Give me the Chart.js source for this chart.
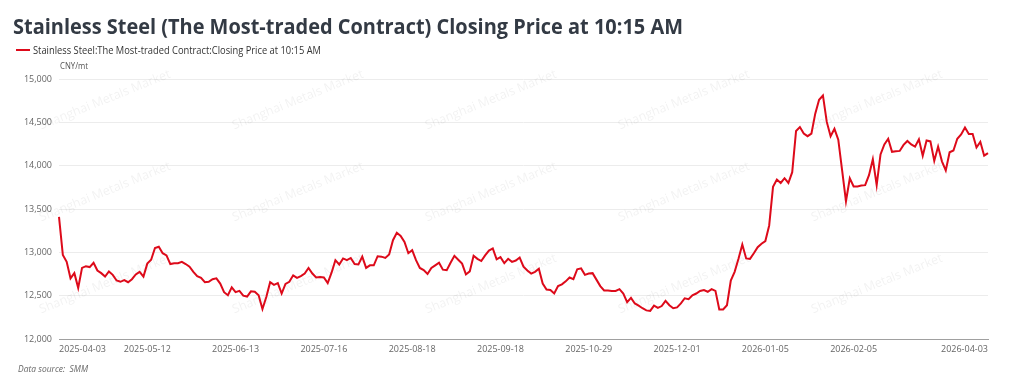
<!DOCTYPE html>
<html>
<head>
<meta charset="utf-8">
<script src="https://cdn.jsdelivr.net/npm/chart.js@4.4.1/dist/chart.umd.min.js"></script>
<style>
	html, body { margin: 0; padding: 0; background: #fff; }
	#wrap { position: relative; width: 1024px; height: 384px; overflow: hidden; }
	#chart { position: absolute; left: 0; top: 0; }
	.txt { position: absolute; white-space: nowrap; transform-origin: left center; font-family: "Open Sans", "Noto Sans", sans-serif; }
	#title { left: 13px; top: 11px; font-size: 22px; font-weight: 700; color: #333a44; line-height: 28px; }
	#legend-line { position: absolute; left: 16px; top: 49px; width: 14px; height: 2px; background: #dd0a1a; }
	#legend { left: 33px; top: 43px; font-size: 10.5px; color: #333; line-height: 14px; }
	#unit { left: 60px; top: 60px; font-size: 9px; color: #555; line-height: 12px; }
	#source { left: 18px; top: 363px; font-size: 9px; font-style: italic; color: #666; line-height: 12px; }
</style>
</head>
<body>
<div id="wrap">
	<canvas id="chart" width="1024" height="384"></canvas>
	<div class="txt" id="title">Stainless Steel (The Most-traded Contract) Closing Price at 10:15 AM</div>
	<div id="legend-line"></div>
	<div class="txt" id="legend">Stainless Steel:The Most-traded Contract:Closing Price at 10:15 AM</div>
	<div class="txt" id="unit">CNY/mt</div>
	<div class="txt" id="source">Data source:&nbsp; SMM</div>
</div>
<script>
const seriesName = "Stainless Steel:The Most-traded Contract:Closing Price at 10:15 AM";

// trading calendar (SHFE): weekdays minus exchange holidays
const firstDay = "2025-04-03";
const lastDay = "2026-04-03";
const holidays = [
	"2025-04-04", "2025-05-01", "2025-05-02", "2025-05-05", "2025-06-02",
	"2025-10-01", "2025-10-02", "2025-10-03", "2025-10-06", "2025-10-07", "2025-10-08",
	"2026-01-01", "2026-01-02",
	"2026-02-16", "2026-02-17", "2026-02-18", "2026-02-19", "2026-02-20", "2026-02-23",
];

const tickLabels = [
	"2025-04-03", "2025-05-12", "2025-06-13", "2025-07-16", "2025-08-18", "2025-09-18",
	"2025-10-29", "2025-12-01", "2026-01-05", "2026-02-05", "2026-04-03",
];

const yTicks = [12000, 12500, 13000, 13500, 14000, 14500, 15000];

// closing price, CNY/mt, one value per trading day
const closingPrice = [
	13410, 12970, 12890, 12700, 12760, 12590, 12820, 12840, 12830, 12880,
	12790, 12760, 12720, 12780, 12740, 12675, 12660, 12680, 12655, 12690,
	12745, 12775, 12720, 12870, 12915, 13050, 13065, 12990, 12965, 12865,
	12875, 12875, 12890, 12865, 12835, 12775, 12725, 12705, 12655, 12660,
	12690, 12700, 12640, 12540, 12505, 12595, 12540, 12555, 12500, 12490,
	12550, 12545, 12505, 12345, 12485, 12655, 12625, 12645, 12525, 12635,
	12660, 12735, 12705, 12725, 12755, 12820, 12755, 12710, 12715, 12710,
	12645, 12765, 12910, 12860, 12930, 12910, 12935, 12865, 12860, 12950,
	12820, 12850, 12850, 12955, 12950, 12935, 12975, 13140, 13225, 13190,
	13120, 12990, 13025, 12910, 12820, 12795, 12750, 12820, 12850, 12880,
	12800, 12795, 12880, 12960, 12915, 12870, 12745, 12780, 12960, 12925,
	12900, 12965, 13020, 13045, 12920, 12945, 12875, 12925, 12890, 12905,
	12940, 12835, 12790, 12755, 12775, 12810, 12640, 12570, 12565, 12525,
	12610, 12630, 12665, 12710, 12690, 12805, 12815, 12740, 12755, 12760,
	12685, 12610, 12560, 12560, 12555, 12555, 12575, 12525, 12425, 12475,
	12410, 12385, 12355, 12330, 12325, 12385, 12360, 12380, 12440, 12390,
	12355, 12365, 12410, 12470, 12460, 12505, 12525, 12555, 12565, 12545,
	12575, 12555, 12340, 12340, 12390, 12675, 12775, 12925, 13090, 12930,
	12925, 12990, 13060, 13100, 13130, 13310, 13755, 13840, 13800, 13855,
	13800, 13925, 14400, 14445, 14370, 14340, 14370, 14600, 14760, 14810,
	14505, 14340, 14425, 14300, 13945, 13590, 13855, 13760, 13760, 13770,
	13775, 13890, 14075, 13775, 14130, 14245, 14310, 14160, 14165, 14170,
	14240, 14285, 14245, 14220, 14305, 14115, 14290, 14280, 14055, 14220,
	14050, 13945, 14155, 14175, 14310, 14360, 14440, 14365, 14365, 14210,
	14275, 14115, 14145,
];

function tradingDays(from, to, skip) {
	const days = [];
	const d = new Date(from + "T00:00:00Z");
	const end = new Date(to + "T00:00:00Z");
	while (d <= end) {
		const iso = d.toISOString().slice(0, 10);
		const wd = d.getUTCDay();
		if (wd !== 0 && wd !== 6 && !skip.includes(iso)) days.push(iso);
		d.setUTCDate(d.getUTCDate() + 1);
	}
	return days;
}

const categories = tradingDays(firstDay, lastDay, holidays);

const watermark = {
	id: "watermark",
	beforeDatasetsDraw(chart) {
		const ctx = chart.ctx;
		ctx.save();
		ctx.font = '12.5px "Open Sans", sans-serif';
		ctx.fillStyle = "rgba(0, 0, 0, 0.055)";
		ctx.textAlign = "center";
		ctx.textBaseline = "middle";
		for (let cx = 105; cx < 1024; cx += 193) {
			for (let cy = 100; cy < 340; cy += 92) {
				ctx.save();
				ctx.translate(cx, cy);
				ctx.rotate(-22 * Math.PI / 180);
				ctx.fillText("Shanghai Metals Market", 0, 0);
				ctx.restore();
			}
		}
		ctx.restore();
	},
};

const tickFont = { family: '"Open Sans", sans-serif', size: 9 };

new Chart(document.getElementById("chart"), {
	type: "line",
	data: {
		labels: categories,
		datasets: [
			{
				label: seriesName,
				data: closingPrice,
				borderColor: "#dd0a1a",
				backgroundColor: "#dd0a1a",
				borderWidth: 2,
				pointRadius: 0,
				tension: 0,
			},
		],
	},
	options: {
		responsive: false,
		animation: false,
		layout: { padding: { left: 0, right: 36, top: 79, bottom: 0 } },
		plugins: {
			legend: { display: false },
			title: { display: false },
			tooltip: { enabled: false },
		},
		scales: {
			x: {
				grid: { display: false, drawTicks: false },
				border: { display: true, color: "#a0a0a0", width: 1 },
				ticks: {
					autoSkip: false,
					maxRotation: 0,
					align: "inner",
					padding: 5,
					color: "#666",
					font: tickFont,
					callback: function (value, index) {
						const lab = categories[index];
						return tickLabels.includes(lab) ? lab : "";
					},
				},
				afterFit(scale) {
					scale.height = 45;
				},
			},
			y: {
				min: yTicks[0],
				max: yTicks[yTicks.length - 1],
				afterBuildTicks(scale) {
					scale.ticks = yTicks.map((v) => ({ value: v }));
				},
				grid: { color: "#ececec", drawTicks: false },
				border: { display: false },
				ticks: {
					padding: 7,
					color: "#666",
					font: tickFont,
					callback: (v) => Number(v).toLocaleString("en-US"),
				},
				afterFit(scale) {
					scale.width = 59;
				},
			},
		},
	},
	plugins: [watermark],
});

function fitWidth(id, width) {
	const el = document.getElementById(id);
	const w = el.getBoundingClientRect().width;
	el.style.transform = "scaleX(" + width / w + ")";
}
fitWidth("title", 670);
fitWidth("legend", 288);
fitWidth("unit", 28);
fitWidth("source", 70);
</script>
</body>
</html>
